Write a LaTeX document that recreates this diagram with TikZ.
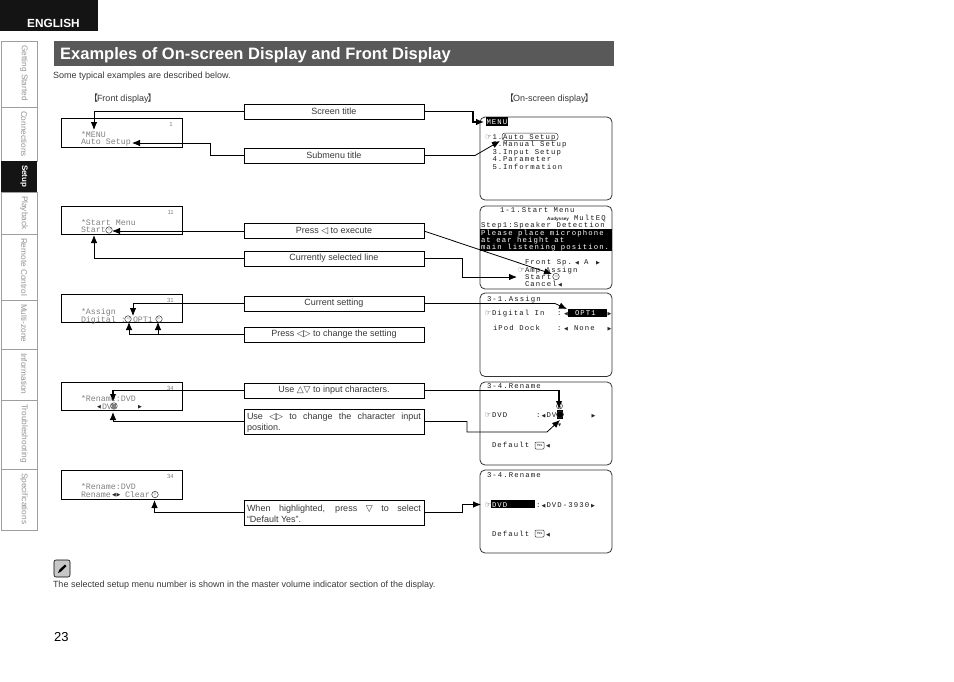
\documentclass[tikz,border=0pt]{standalone}
\usepackage{fontspec}
\setmainfont{Liberation Sans}
\newfontfamily\osdf[LetterSpace=15]{Liberation Mono}
\newfontfamily\frontf{Liberation Mono}
\newfontfamily\symf{DejaVu Sans}
\newfontfamily\cjkf{Noto Sans CJK JP}
\usetikzlibrary{arrows.meta}
\newcounter{tn}
\definecolor{body}{gray}{0.22}
\definecolor{tabline}{gray}{0.62}
\definecolor{tabtxt}{gray}{0.58}
\definecolor{fronttxt}{gray}{0.5}
\tikzset{
  x=1pt,y=-1pt,
  txt/.style={anchor=base west,inner sep=0pt,outer sep=0pt,text=body,font=\fontsize{9}{10}\selectfont},
  osdtxt/.style={anchor=base west,inner sep=0pt,outer sep=0pt,text=black!90,font=\osdf\fontsize{7.3}{8}\selectfont},
  osdw/.style={osdtxt,text=white},
  fronttx/.style={anchor=base west,inner sep=0pt,outer sep=0pt,text=fronttxt,font=\frontf\fontsize{8.3}{9}\selectfont},
  symb/.style={anchor=base west,inner sep=0pt,outer sep=0pt,text=black!85,font=\symf\fontsize{5}{6}\selectfont},
  callout/.style={draw=black,line width=.9pt,inner sep=0pt,outer sep=0pt,text=body,align=center,minimum width=180pt,minimum height=15pt,font=\fontsize{9}{11}\selectfont},
  frontpanel/.style={draw=black,line width=.9pt},
  osdpanel/.style={draw=black!80,line width=.8pt,rounded corners=5pt},
  conn/.style={draw=black,line width=.8pt,-{Latex[length=8pt,width=6.5pt]}},
  connthick/.style={conn,line width=1.4pt},
  tabbox/.style={draw=tabline,line width=.8pt},
  tabtx/.style={rotate=-90,anchor=west,inner sep=0pt,outer sep=0pt,text=tabtxt,font=\fontsize{8.3}{9}\selectfont},
  circ/.style={draw=black!80,line width=.5pt,circle,inner sep=0pt,minimum size=6.5pt,text=black!80,font=\symf\fontsize{3.5}{4}\selectfont},
}
\newcommand{\onode}[4][osdtxt]{\stepcounter{tn}\node[#1] (o\thetn) at (#2,#3) {#4};}
\newcommand{\fnode}[3]{\stepcounter{tn}\node[fronttx] (f\thetn) at (#1,#2) {#3};}
\newcommand{\snode}[3]{\stepcounter{tn}\node[symb] (s\thetn) at (#1,#2) {#3};}
\newcommand{\tabt}[3][tabtx]{\stepcounter{tn}\node[#1] (tb\thetn) at (24,#2) {#3};}
\newcommand{\hand}[2]{\snode{#1}{#2}{\fontsize{7.5}{8}\selectfont ☞}}
\newcommand{\ltri}[2]{\snode{#1}{#2}{◀}}
\newcommand{\rtri}[2]{\snode{#1}{#2}{▶}}
\newcommand{\yesbox}[2]{\stepcounter{tn}\node[draw=black!80,line width=.5pt,rounded corners=1pt,inner sep=0pt,minimum width=9pt,minimum height=7pt,font=\fontsize{3.5}{4}\selectfont] (y\thetn) at (#1,#2) {Yes};}
\newcommand{\sy}[1]{{\symf #1}}
\newcommand{\dn}[1]{\raisebox{-1pt}{#1}}
\begin{document}
\begin{tikzpicture}
\useasboundingbox (0,0) rectangle (954,681);
% header
\fill[black!92] (0,0) rectangle (98,31);
\node[anchor=base west,inner sep=0pt,text=white,font=\bfseries\fontsize{11.8}{13}\selectfont] (lang) at (27,27.5) {ENGLISH};
\fill[black!65] (54,41) rectangle (614,66);
\node[anchor=base west,inner sep=0pt,text=white,font=\bfseries\fontsize{16.5}{18}\selectfont] (title) at (60,59) {Examples of On-screen Display and Front Display};
\node[txt] (intro) at (53,78) {Some typical examples are described below.};
\node[txt] (fd) at (94,101) {\kern-5pt\cjkf 【\kern-1pt\rmfamily Front display\kern-1pt\cjkf 】};
\node[txt] (od) at (510,101) {\kern-5pt\cjkf 【\kern-1pt\rmfamily On-screen display\kern-1pt\cjkf 】};
% side tabs
\foreach \a/\b in {41/107,107/161,192/234,234/300,300/349,349/400,400/469,469/530}{\draw[tabbox] (1,\a) rectangle (37,\b);}
\fill[black!92] (1,161) rectangle (37,192);
\tabt{45}{Getting Started}
\tabt{111}{Connections}
\tabt[tabtx,text=white,font=\bfseries\fontsize{8}{9}\selectfont]{165}{Setup}
\tabt{196}{Playback}
\tabt{238}{Remote Control}
\tabt{304}{Multi-zone}
\tabt{353}{Information}
\tabt{404}{Troubleshooting}
\tabt{473}{Specifications}
% front panels
\foreach \a/\b in {118/147,206/234,294/322,382/410,470/499}{\draw[frontpanel] (61,\a) rectangle (182,\b);}
\stepcounter{tn}\node[anchor=base east,inner sep=0pt,text=fronttxt,font=\fontsize{6}{7}\selectfont] (p1) at (173,126) {1};
\node[anchor=base east,inner sep=0pt,text=fronttxt,font=\fontsize{6}{7}\selectfont] (p2) at (174,214) {11};
\node[anchor=base east,inner sep=0pt,text=fronttxt,font=\fontsize{6}{7}\selectfont] (p3) at (174,302) {31};
\node[anchor=base east,inner sep=0pt,text=fronttxt,font=\fontsize{6}{7}\selectfont] (p4) at (174,390) {34};
\node[anchor=base east,inner sep=0pt,text=fronttxt,font=\fontsize{6}{7}\selectfont] (p5) at (174,478) {34};
\fnode{81}{137}{*MENU}
\fnode{81}{144}{Auto Setup}
\fnode{81}{225.5}{*Start Menu}
\fnode{81}{232.5}{Start}
\node[circ] (c1) at (109,230) {◁};
\fnode{81}{314.5}{*Assign}
\fnode{81}{322}{Digital :}
\node[circ] (c2) at (128,319) {◁};
\fnode{133}{322}{OPT1}
\node[circ] (c3) at (159,319) {▷};
\fnode{81}{401}{*Rename:DVD}
\snode{97}{408.5}{◀}
\fnode{102}{409}{DV}
\node[circ] (c4) at (114,406) {};
\fill[fronttxt] (112,403.5) rectangle (116,408.5);
\snode{138}{408.5}{▶}
\fnode{81}{489.5}{*Rename:DVD}
\fnode{81}{497}{Rename}
\snode{112}{496.5}{◀}
\snode{116.5}{496.5}{▶}
\fnode{125}{497}{Clear}
\node[circ] (c5) at (155,494.5) {▽};
% on-screen panels
\foreach \a/\b in {117/200,206/289,293/376.5,382/465,470/553}{\draw[osdpanel] (480,\a) rectangle (612,\b);}
% panel 1
\fill[black] (486,117) rectangle (508,126);
\onode[osdw]{486.5}{124}{MENU}
\hand{485}{139}
\onode{492.5}{139}{1.}
\onode{503}{139}{Auto Setup}
\draw[black!80,line width=.5pt,rounded corners=3pt] (502,133) rectangle (558,140.5);
\onode{492.5}{146}{2.}
\onode{503}{146}{Manual Setup}
\onode{492.5}{154}{3.}
\onode{503}{154}{Input Setup}
\onode{492.5}{161}{4.}
\onode{503}{161}{Parameter}
\onode{492.5}{169}{5.}
\onode{503}{169}{Information}
% panel 2
\onode{500}{212}{1-1.Start Menu}
\stepcounter{tn}\node[anchor=base west,inner sep=0pt,text=black!85,font=\bfseries\fontsize{4.6}{5}\selectfont] (aud) at (547,220) {Audyssey};
\onode{574}{220}{MultEQ}
\onode{481}{227}{Step1:Speaker Detection}
\fill[black] (480,229) rectangle (612,251);
\onode[osdw]{481}{235}{Please place microphone}
\onode[osdw]{481}{242}{at ear height at}
\onode[osdw]{481}{249}{main listening position.}
\onode{525}{264}{Front Sp.}
\ltri{575}{264}
\onode{584}{264}{A}
\rtri{596}{264}
\hand{518}{272}
\onode{525}{272}{Amp Assign}
\onode{525}{279}{Start}
\node[circ] (c6) at (556,276.5) {◁};
\onode{525}{286}{Cancel}
\ltri{558}{286}
% panel 3
\onode{487}{301}{3-1.Assign}
\hand{484.5}{315}
\onode{492}{315}{Digital In}
\onode{557}{315}{:}
\ltri{564}{315}
\fill[black] (568,309) rectangle (607,317);
\onode[osdw]{575}{315}{OPT1}
\rtri{607.5}{315}
\onode{493}{330}{iPod Dock}
\onode{557}{330}{:}
\ltri{564}{330}
\onode{574}{330}{None}
\rtri{607.5}{330}
% panel 4
\onode{487}{388}{3-4.Rename}
\hand{484.5}{417}
\onode{492}{417}{DVD}
\onode{536}{417}{:}
\ltri{541.5}{417}
\onode{546.5}{417}{DV}
\fill[black] (557,410) rectangle (563,419);
\node[draw=black!80,line width=.5pt,circle,inner sep=0pt,minimum size=7pt] (c7) at (560,414.5) {};
\node[draw=black!80,line width=.5pt,circle,inner sep=0pt,minimum size=6pt] (c8) at (559.5,406) {};
\snode{558}{407.5}{\fontsize{4}{5}\selectfont ▲}
\snode{558}{426}{\fontsize{4}{5}\selectfont ▼}
\rtri{591.5}{417}
\onode{492}{447}{Default}
\yesbox{539.5}{445.5}
\ltri{546}{447}
% panel 5
\onode{487}{477}{3-4.Rename}
\hand{484.5}{507}
\fill[black] (491,500) rectangle (535,508);
\onode[osdw]{492}{507}{DVD}
\onode{536}{507}{:}
\ltri{541.5}{507}
\onode{546.5}{507}{DVD-3930}
\rtri{591}{507}
\onode{492}{536}{Default}
\yesbox{539.5}{533.5}
\ltri{546}{536}
% callouts
\node[callout] (st) at (334,111.5) {\dn{Screen title}};
\node[callout] (sm) at (334,155.5) {\dn{Submenu title}};
\node[callout] (px) at (334,231) {\dn{Press \sy{◁} to execute}};
\node[callout] (cl) at (334,258.5) {\dn{Currently selected line}};
\node[callout] (cs) at (334,303.5) {\dn{Current setting}};
\node[callout] (pc) at (334,334.5) {\dn{Press \sy{◁▷} to change the setting}};
\node[callout] (ui) at (334,390.5) {\dn{Use \sy{△▽} to input characters.}};
\node[callout,text width=174pt,minimum width=180pt,minimum height=25pt,align=justify] (up) at (334,421.5) {\rule{0pt}{9pt}Use \sy{◁▷} to change the character input\linebreak position.};
\node[callout,text width=174pt,minimum width=180pt,minimum height=25pt,align=justify] (wh) at (334,512.5) {\rule{0pt}{9pt}When highlighted, press \sy{▽} to select\linebreak “Default Yes”.};
% connector ends
\coordinate (a1) at (94,130);
\coordinate (a2j) at (473,122);
\coordinate (a2) at (484,122);
\coordinate (a3j) at (210,143);
\coordinate (a3) at (132,143);
\coordinate (a4j) at (475,155.5);
\coordinate (a4) at (500,141);
\coordinate (a5) at (112,231);
\coordinate (a6) at (552,274);
\coordinate (a7) at (94,235);
\coordinate (a8j) at (462,277);
\coordinate (a8) at (517,277);
\coordinate (a9) at (133,316);
\coordinate (a10j) at (555,303.5);
\coordinate (a10) at (567,309);
\coordinate (a11) at (129,322);
\coordinate (a12) at (158,322);
\coordinate (a13) at (113,402);
\coordinate (a14) at (559,409);
\coordinate (a15) at (113,412);
\coordinate (a16j) at (467,432);
\coordinate (a16k) at (547,432);
\coordinate (a16) at (560,420);
\coordinate (a17) at (154.5,500);
\coordinate (a18j) at (462,504.5);
\coordinate (a18) at (481,504.5);
% connectors
\draw[conn] (st.west) -| (a1);
\draw[conn,line width=1.2pt] (st.east) -| (a2j) -- (a2);
\draw[conn] (sm.west) -| (a3j) -- (a3);
\draw[conn] (sm.east) -- (a4j) -- (a4);
\draw[conn] (px.west) -- (a5);
\draw[conn] (px.east) -- (a6);
\draw[conn] (cl.west) -| (a7);
\draw[conn] (cl.east) -| (a8j) -- (a8);
\draw[conn] (cs.west) -| (a9);
\draw[conn] (cs.east) -- (a10j) -- (a10);
\draw[conn] (pc.west) -| (a11);
\draw[conn] (pc.west -| a12) -- (a12);
\draw[connthick] (ui.west) -| (a13);
\draw[connthick] (ui.east) -| (a14);
\draw[conn] (up.west) -| (a15);
\draw[conn] (up.east) -| (a16j) -- (a16k) -- (a16);
\draw[conn] (wh.west) -| (a17);
\draw[conn] (wh.east) -| (a18j) -- (a18);
% pencil icon
\draw[black,line width=.6pt,fill=black!22,rounded corners=2pt] (54,560) rectangle (70,577);
\fill[black] (58,573) -- (59.5,569.5) -- (65,564.5) -- (66.5,566) -- (61,571.5) -- cycle;
\node[txt] (note) at (53,587) {The selected setup menu number is shown in the master volume indicator section of the display.};
\node[anchor=base west,inner sep=0pt,text=black,font=\fontsize{13}{15}\selectfont] (pg) at (54,641) {23};
\end{tikzpicture}
\end{document}
